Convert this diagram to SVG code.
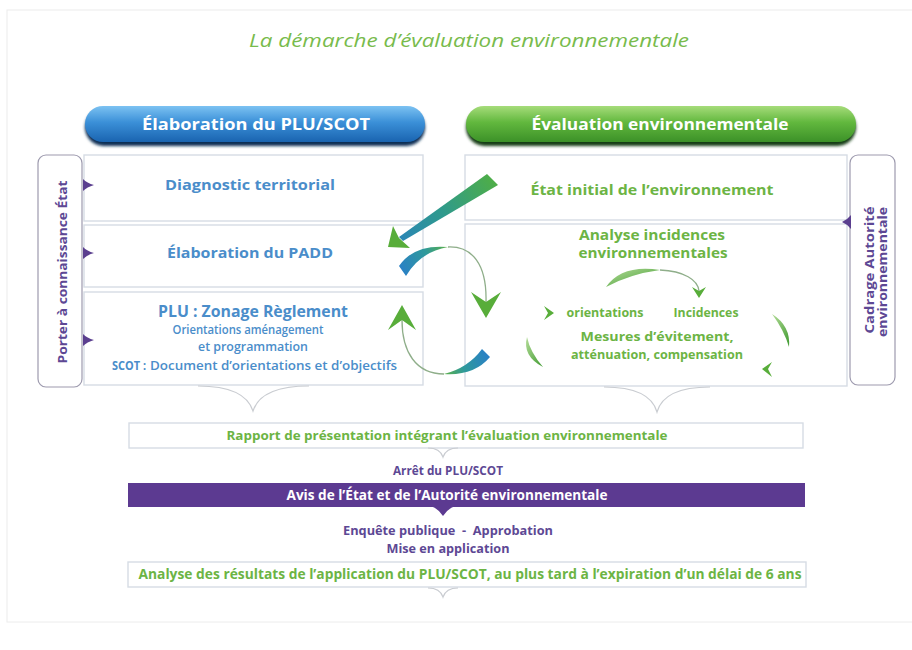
<svg xmlns="http://www.w3.org/2000/svg" width="912" height="650" viewBox="0 0 912 650">
<defs>
<style>
text{font-family:"Open Sans","Noto Sans","DejaVu Sans",sans-serif;font-weight:700;}
.blue{fill:#4a8dca;}
.green{fill:#6cb444;}
.purple{fill:#5d4894;}
.white{fill:#ffffff;}
.box{fill:#ffffff;stroke:#d6dce4;stroke-width:1.4;}
.br{fill:#ffffff;stroke:#9d9aae;stroke-width:1.2;}
.thin{fill:none;stroke:#8fae8a;stroke-width:1.3;}
.brace{fill:none;stroke:#c9ccd1;stroke-width:1.2;}
.ah{fill:#58ad3a;}
.pm{fill:#5b3f8f;}
</style>
<linearGradient id="gBlue" x1="0" y1="0" x2="0" y2="1">
<stop offset="0" stop-color="#7cc2f2"/><stop offset="0.45" stop-color="#3b90d8"/><stop offset="1" stop-color="#1a64b0"/>
</linearGradient>
<linearGradient id="gGreen" x1="0" y1="0" x2="0" y2="1">
<stop offset="0" stop-color="#a6dc7a"/><stop offset="0.45" stop-color="#62b83e"/><stop offset="1" stop-color="#3c9128"/>
</linearGradient>
<linearGradient id="gDiag" gradientUnits="userSpaceOnUse" x1="495" y1="178" x2="400" y2="240">
<stop offset="0" stop-color="#4fae45"/><stop offset="0.55" stop-color="#2f9a8c"/><stop offset="1" stop-color="#2a86b6"/>
</linearGradient>
<linearGradient id="gSw1" gradientUnits="userSpaceOnUse" x1="400" y1="272" x2="448" y2="247">
<stop offset="0" stop-color="#2a7fc8"/><stop offset="0.6" stop-color="#2f9a9a"/><stop offset="1" stop-color="#5cb048"/>
</linearGradient>
<linearGradient id="gSw2" gradientUnits="userSpaceOnUse" x1="488" y1="352" x2="444" y2="374">
<stop offset="0" stop-color="#2a7fc8"/><stop offset="0.6" stop-color="#2f9a9a"/><stop offset="1" stop-color="#5cb048"/>
</linearGradient>
<linearGradient id="gSg" x1="0" y1="0" x2="1" y2="1">
<stop offset="0" stop-color="#b4dc98"/><stop offset="1" stop-color="#3f9a30"/>
</linearGradient>
<filter id="sh" x="-10%" y="-30%" width="120%" height="170%">
<feGaussianBlur stdDeviation="1.6"/>
</filter>
</defs>
<rect width="912" height="650" fill="#ffffff"/>
<rect x="7" y="10" width="930" height="612" fill="none" stroke="#ececec" stroke-width="1"/>

<g id="title">
<text x="469" y="47" text-anchor="middle" font-size="19" font-style="italic" style="font-weight:400;fill:#78bb4c" textLength="440" lengthAdjust="spacingAndGlyphs">La démarche d’évaluation environnementale</text>
</g>

<g id="header-plu">
<rect x="85" y="109" width="340" height="37" rx="18.5" fill="#0e2f55" filter="url(#sh)"/>
<rect x="85" y="106" width="340" height="36" rx="18" fill="url(#gBlue)"/>
<text class="white" x="256" y="130" text-anchor="middle" font-size="16" textLength="228" lengthAdjust="spacingAndGlyphs">Élaboration du PLU/SCOT</text>
</g>
<g id="header-env">
<rect x="466" y="109" width="390" height="37" rx="18.5" fill="#173d12" filter="url(#sh)"/>
<rect x="466" y="106" width="390" height="36" rx="18" fill="url(#gGreen)"/>
<text class="white" x="660" y="130" text-anchor="middle" font-size="16" textLength="257" lengthAdjust="spacingAndGlyphs">Évaluation environnementale</text>
</g>

<g id="porter">
<rect class="br" x="38" y="155" width="44" height="232" rx="8"/>
<text class="purple" transform="translate(67,272) rotate(-90)" text-anchor="middle" font-size="13" textLength="183" lengthAdjust="spacingAndGlyphs">Porter à connaissance État</text>
</g>
<g id="cadrage">
<rect class="br" x="850" y="155" width="45" height="230" rx="8"/>
<text class="purple" transform="translate(874,270) rotate(-90)" text-anchor="middle" font-size="13" textLength="127" lengthAdjust="spacingAndGlyphs">Cadrage Autorité</text>
<text class="purple" transform="translate(887,272) rotate(-90)" text-anchor="middle" font-size="13" textLength="130" lengthAdjust="spacingAndGlyphs">environnementale</text>
</g>

<g id="diagnostic">
<rect class="box" x="84" y="155" width="339" height="66"/>
<text class="blue" x="250" y="190" text-anchor="middle" font-size="14.5" textLength="170" lengthAdjust="spacingAndGlyphs">Diagnostic territorial</text>
</g>
<g id="padd">
<rect class="box" x="84" y="225" width="339" height="62"/>
<text class="blue" x="250" y="258" text-anchor="middle" font-size="14.5" textLength="166" lengthAdjust="spacingAndGlyphs">Élaboration du PADD</text>
</g>
<g id="zonage">
<rect class="box" x="84" y="292" width="339" height="93"/>
<text class="blue" x="253" y="317" text-anchor="middle" font-size="15.5" textLength="190" lengthAdjust="spacingAndGlyphs">PLU : Zonage Règlement</text>
<text class="blue" x="248" y="334" text-anchor="middle" font-size="12" style="font-weight:600" textLength="151" lengthAdjust="spacingAndGlyphs">Orientations aménagement</text>
<text class="blue" x="253" y="351" text-anchor="middle" font-size="12" style="font-weight:600" textLength="110" lengthAdjust="spacingAndGlyphs">et programmation</text>
<text class="blue" x="112" y="370" font-size="13" textLength="34" lengthAdjust="spacingAndGlyphs">SCOT :</text>
<text class="blue" x="150" y="370" font-size="12" style="font-weight:600" textLength="247" lengthAdjust="spacingAndGlyphs">Document d’orientations et d’objectifs</text>
</g>

<g id="etat-initial">
<rect class="box" x="465" y="155" width="382" height="65"/>
<text class="green" x="652" y="195" text-anchor="middle" font-size="14.5" textLength="243" lengthAdjust="spacingAndGlyphs">État initial de l’environnement</text>
</g>
<g id="analyse">
<rect class="box" x="465" y="224" width="382" height="162"/>
<text class="green" x="652" y="240" text-anchor="middle" font-size="14.5" textLength="146" lengthAdjust="spacingAndGlyphs">Analyse incidences</text>
<text class="green" x="653" y="258" text-anchor="middle" font-size="14.5" textLength="149" lengthAdjust="spacingAndGlyphs">environnementales</text>
<text class="green" x="605" y="317" text-anchor="middle" font-size="12" textLength="77" lengthAdjust="spacingAndGlyphs">orientations</text>
<text class="green" x="706" y="317" text-anchor="middle" font-size="12" textLength="65" lengthAdjust="spacingAndGlyphs">Incidences</text>
<text class="green" x="657" y="341" text-anchor="middle" font-size="13" textLength="153" lengthAdjust="spacingAndGlyphs">Mesures d’évitement,</text>
<text class="green" x="657" y="359" text-anchor="middle" font-size="13" textLength="172" lengthAdjust="spacingAndGlyphs">atténuation, compensation</text>
</g>

<g id="rapport">
<rect class="box" x="129" y="423" width="674" height="25"/>
<text class="green" x="447" y="440" text-anchor="middle" font-size="13" textLength="441" lengthAdjust="spacingAndGlyphs">Rapport de présentation intégrant l’évaluation environnementale</text>
</g>
<g id="arret">
<text class="purple" x="448" y="475" text-anchor="middle" font-size="12.5" textLength="110" lengthAdjust="spacingAndGlyphs">Arrêt du PLU/SCOT</text>
</g>
<g id="avis">
<rect x="128" y="483" width="677" height="24" fill="#5c3a91"/>
<path d="M430,506 Q438,508 443,516 Q448,508 456,506 Z" fill="#5c3a91"/>
<text class="white" x="447" y="499.5" text-anchor="middle" font-size="13.5" textLength="321" lengthAdjust="spacingAndGlyphs">Avis de l’État et de l’Autorité environnementale</text>
</g>
<g id="enquete">
<text class="purple" x="448" y="535" text-anchor="middle" font-size="13" style="white-space:pre" xml:space="preserve" textLength="210" lengthAdjust="spacingAndGlyphs">Enquête publique  -  Approbation</text>
<text class="purple" x="448" y="553" text-anchor="middle" font-size="13" textLength="123" lengthAdjust="spacingAndGlyphs">Mise en application</text>
</g>
<g id="resultats">
<rect class="box" x="128" y="562" width="678" height="25"/>
<text class="green" x="470" y="579" text-anchor="middle" font-size="13.5" textLength="663" lengthAdjust="spacingAndGlyphs">Analyse des résultats de l’application du PLU/SCOT, au plus tard à l’expiration d’un délai de 6 ans</text>
</g>

<g id="connectors">
<path class="pm" d="M83,179 Q87,183 94,185 Q87,187 83,191 Z"/>
<path class="pm" d="M83,247 Q87,251 94,253 Q87,255 83,259 Z"/>
<path class="pm" d="M83,334 Q87,338 94,340 Q87,342 83,346 Z"/>
<path class="pm" d="M851,215 Q847,220 842,222 Q847,224 851,229 Z"/>
<polygon points="487,174 498,185 403,241 399,237" fill="url(#gDiag)"/>
<path class="ah" d="M388,247 L393,226 L399,238 L410,248 Z"/>
<path d="M399,266 Q414,244 448,247 Q420,252 406,276 Z" fill="url(#gSw1)"/>
<path class="thin" d="M448,247 C472,246 487,264 486,302"/>
<path class="ah" d="M486,318 L471,292 L486,302 L501,292 Z"/>
<path d="M482,349 L490,357 Q474,376 444,374 Q468,368 482,349 Z" fill="url(#gSw2)"/>
<path class="thin" d="M444,374 C416,374 402,352 402,320"/>
<path class="ah" d="M402,305 L388,330 L402,320 L416,330 Z"/>
<path d="M606,287 Q622,264 660,270 Q630,274 606,287 Z" fill="url(#gSg)"/>
<path class="thin" d="M660,270 C684,271 698,280 699,291"/>
<path class="ah" d="M699,298 L692,287 L699,291 L706,287 Z"/>
<path class="ah" d="M554,313 L544,306 L548,313 L544,320 Z"/>
<path d="M772,314 Q791,326 789,347 Q784,330 772,314 Z" fill="url(#gSg)"/>
<path class="ah" d="M762,369 L772,362 L768,369 L772,377 Z"/>
<path d="M527,337 Q522,356 543,367 Q530,352 527,337 Z" fill="url(#gSg)"/>
<path class="brace" d="M198,386 Q245,386 253,411 Q261,386 309,386"/>
<path class="brace" d="M604,387 Q650,387 657,412 Q664,387 710,387"/>
<path class="brace" d="M428,448 Q440,448 443,457 Q446,448 458,448"/>
<path class="brace" d="M428,588 Q440,588 443,597 Q446,588 458,588"/>
</g>
</svg>
